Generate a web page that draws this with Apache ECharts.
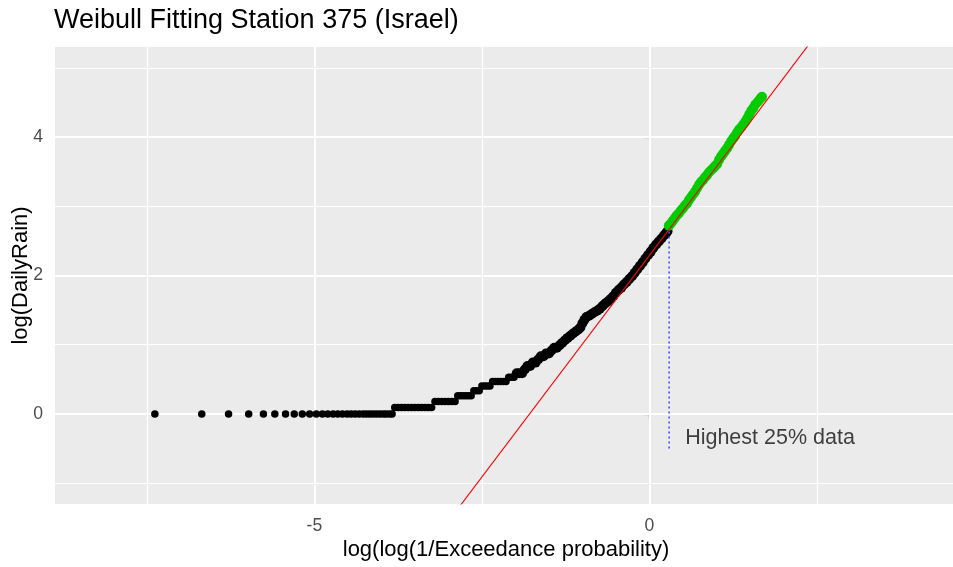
<!DOCTYPE html>
<html>
<head>
<meta charset="utf-8">
<script src="https://cdn.jsdelivr.net/npm/echarts@6/dist/echarts.min.js"></script>
<style>
html,body{margin:0;padding:0;background:#fff;}
#chart{width:953px;height:567px;}
</style>
</head>
<body>
<div id="chart"></div>
<script>
// ---- data ----
const titleText = 'Weibull Fitting Station 375 (Israel)';
const xAxisTitle = 'log(log(1/Exceedance probability)';
const yAxisTitle = 'log(DailyRain)';
const xTickValues = [-5, 0];
const yTickValues = [0, 2, 4];
const xMajorGrid = [-5, 0];
const xMinorGrid = [-7.5, -2.5, 2.5];
const yMajorGrid = [0, 2, 4];
const yMinorGrid = [-1, 1, 3, 5];
const xRange = [-8.87, 4.53];
const yRange = [-1.30, 5.30];

// lower 75% of the data (black points)
const blackX = [
  -7.38, -6.68, -6.28, -5.98, -5.76, -5.59, -5.43, -5.30, -5.18, -5.07, -4.97, -4.88, -4.80, -4.72, -4.65,
  -4.58, -4.51, -4.45, -4.39, -4.33, -4.27, -4.22, -4.17, -4.12, -4.07, -4.02, -3.97, -3.93, -3.88, -3.84,
  -3.80, -3.75, -3.70, -3.65, -3.60, -3.55, -3.50, -3.45, -3.40, -3.35, -3.30, -3.25,
  -3.20, -3.15, -3.10, -3.05, -3.00, -2.95, -2.90,
  -2.86, -2.82, -2.78, -2.74, -2.70, -2.66,
  -2.62, -2.58, -2.54,
  -2.50, -2.46, -2.42, -2.38,
  -2.34, -2.30, -2.26, -2.22, -2.18, -2.14,
  -2.10, -2.06, -2.02,
  -1.98, -1.94, -1.90,
  -1.86, -1.82, -1.78, -1.74, -1.70, -1.66, -1.62, -1.58, -1.54, -1.50, -1.46, -1.42, -1.38, -1.34,
  -1.30, -1.26, -1.22, -1.18, -1.14, -1.10, -1.06, -1.03, -1.00, -0.97, -0.94, -0.90, -0.86, -0.82,
  -0.78, -0.74, -0.70, -0.66, -0.62, -0.58, -0.54, -0.50, -0.46, -0.42, -0.38, -0.34, -0.30, -0.26,
  -0.22, -0.18, -0.14, -0.10, -0.06, -0.02, 0.02, 0.06, 0.10, 0.14, 0.18, 0.22, 0.25, 0.27
];
const blackY = [
  0, 0, 0, 0, 0, 0, 0, 0, 0, 0, 0, 0, 0, 0, 0,
  0, 0, 0, 0, 0, 0, 0, 0, 0, 0, 0, 0, 0, 0, 0,
  0.095, 0.095, 0.095, 0.095, 0.095, 0.095, 0.095, 0.095, 0.095, 0.095, 0.095, 0.095,
  0.182, 0.182, 0.182, 0.182, 0.182, 0.182, 0.182,
  0.262, 0.262, 0.262, 0.262, 0.262, 0.262,
  0.336, 0.336, 0.336,
  0.405, 0.405, 0.405, 0.405,
  0.470, 0.470, 0.470, 0.470, 0.470, 0.470,
  0.531, 0.531, 0.531,
  0.588, 0.588, 0.588,
  0.642, 0.693, 0.693, 0.742, 0.742, 0.788, 0.833, 0.833, 0.875, 0.875, 0.916, 0.956, 0.956, 0.993,
  1.030, 1.065, 1.099, 1.131, 1.163, 1.190, 1.220, 1.250, 1.310, 1.360, 1.400, 1.420, 1.445, 1.470,
  1.492, 1.520, 1.560, 1.595, 1.625, 1.660, 1.700, 1.750, 1.790, 1.825, 1.870, 1.905, 1.950, 1.990,
  2.040, 2.090, 2.140, 2.190, 2.245, 2.297, 2.345, 2.400, 2.447, 2.490, 2.535, 2.580, 2.612, 2.640
];

// highest 25% of the data (green points)
const greenX = [
  0.29, 0.32, 0.35, 0.38, 0.41, 0.44, 0.47, 0.50, 0.53, 0.56, 0.59, 0.62, 0.65, 0.68, 0.71, 0.74,
  0.77, 0.80, 0.83, 0.86, 0.89, 0.92, 0.95, 0.98, 1.01, 1.04, 1.07, 1.10, 1.13, 1.16, 1.19, 1.22,
  1.25, 1.28, 1.31, 1.34, 1.37, 1.40, 1.43, 1.46, 1.49, 1.52, 1.55, 1.58, 1.62, 1.65, 1.68
];
const greenY = [
  2.72, 2.75, 2.79, 2.83, 2.87, 2.90, 2.94, 2.97, 3.01, 3.04, 3.09, 3.13, 3.17, 3.21, 3.26, 3.31,
  3.35, 3.38, 3.42, 3.45, 3.49, 3.52, 3.55, 3.58, 3.61, 3.67, 3.72, 3.76, 3.80, 3.84, 3.89, 3.94,
  3.98, 4.02, 4.07, 4.11, 4.14, 4.18, 4.22, 4.27, 4.33, 4.38, 4.42, 4.47, 4.51, 4.55, 4.58
];

// fitted Weibull line (end points, clipped to the panel)
const fitLineX = [-3.2, 2.6];
const fitLineY = [-1.806, 5.618];

// 75% quantile marker and its annotation
const cutX = [0.294, 0.294];
const cutY = [-0.5, 2.68];
const noteX = 0.533;
const noteY = -0.347;
const noteText = 'Highest 25% data';

// ---- chart ----
const zip = (a, b) => a.map((v, i) => [v, b[i]]);
const FONT = 'Liberation Sans, Arial, sans-serif';

const gridLines = []
  .concat(xMinorGrid.map(v => ({ xAxis: v, lineStyle: { width: 1.2 } })))
  .concat(yMinorGrid.map(v => ({ yAxis: v, lineStyle: { width: 1.2 } })))
  .concat(xMajorGrid.map(v => ({ xAxis: v, lineStyle: { width: 2 } })))
  .concat(yMajorGrid.map(v => ({ yAxis: v, lineStyle: { width: 2 } })));

const chart = echarts.init(document.getElementById('chart'), null, { renderer: 'canvas' });
chart.setOption({
  animation: false,
  backgroundColor: '#ffffff',
  textStyle: { fontFamily: FONT },
  title: {
    text: titleText,
    left: 54,
    top: 7,
    padding: 0,
    textStyle: { fontSize: 27, fontWeight: 'normal', color: '#000000', fontFamily: FONT }
  },
  grid: {
    left: 55, right: 0, top: 47, bottom: 63,
    containLabel: false,
    outerBoundsMode: 'none',
    show: true, backgroundColor: '#EBEBEB', borderWidth: 0
  },
  xAxis: {
    type: 'value',
    min: xRange[0], max: xRange[1],
    name: xAxisTitle,
    nameLocation: 'middle',
    nameGap: 35,
    nameMoveOverlap: false,
    nameTextStyle: { fontSize: 22, color: '#000000', fontFamily: FONT, padding: [0, 0, 0, 4] },
    axisLine: { show: false },
    axisTick: { show: true, length: 5, customValues: xTickValues, lineStyle: { color: '#333333', width: 1.2 } },
    axisLabel: { show: true, customValues: xTickValues, margin: 13, fontSize: 17.6, color: '#4D4D4D', fontFamily: FONT },
    splitLine: { show: false }
  },
  yAxis: {
    type: 'value',
    min: yRange[0], max: yRange[1],
    name: yAxisTitle,
    nameLocation: 'middle',
    nameGap: 23,
    nameMoveOverlap: false,
    nameTextStyle: { fontSize: 22, color: '#000000', fontFamily: FONT },
    axisLine: { show: false },
    axisTick: { show: true, length: 5, customValues: yTickValues, lineStyle: { color: '#333333', width: 1.2 } },
    axisLabel: { show: true, customValues: yTickValues, margin: 12, fontSize: 17.6, color: '#4D4D4D', fontFamily: FONT },
    splitLine: { show: false }
  },
  series: [
    {
      type: 'scatter', data: [], z: 1, silent: true,
      markLine: {
        z: 1,
        silent: true, symbol: 'none', animation: false,
        label: { show: false },
        lineStyle: { color: '#FFFFFF', type: 'solid' },
        emphasis: { disabled: true },
        data: gridLines
      }
    },
    {
      type: 'scatter', data: zip(blackX, blackY), z: 2, silent: true,
      symbol: 'circle',
      symbolSize: (v) => (v[0] < -2.0 ? 7.5 : 10),
      itemStyle: { color: '#000000', opacity: 1 }
    },
    {
      type: 'scatter', data: zip(greenX, greenY), z: 3, silent: true,
      symbol: 'circle', symbolSize: 10,
      itemStyle: { color: '#00CC00', opacity: 1 }
    },
    {
      type: 'line', data: zip(cutX, cutY), z: 4, silent: true,
      symbol: 'none', clip: true,
      lineStyle: { color: '#4D4DFF', width: 1.6, type: [2, 3] }
    },
    {
      type: 'line', data: zip(fitLineX, fitLineY), z: 5, silent: true,
      symbol: 'none', clip: true,
      lineStyle: { color: '#FF0000', width: 1.1 }
    },
    {
      type: 'scatter', data: [[noteX, noteY]], z: 6, silent: true,
      symbolSize: 0,
      label: {
        show: true, position: 'right', distance: 0,
        formatter: noteText,
        fontSize: 21.5, color: '#111111', fontFamily: FONT
      }
    }
  ]
});
</script>
</body>
</html>
